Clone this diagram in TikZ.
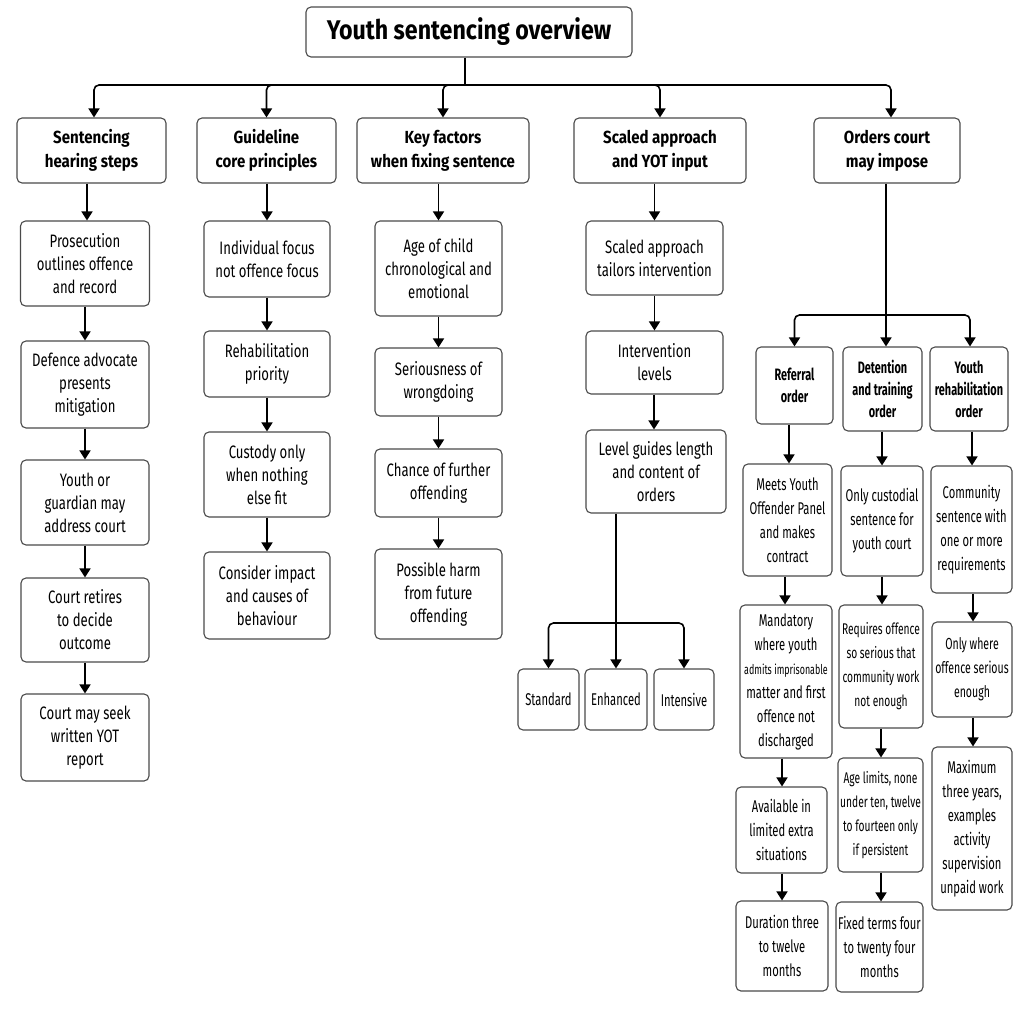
\documentclass[tikz,border=0pt]{standalone}
\usepackage{fontspec}
\usetikzlibrary{arrows.meta}
\newfontfamily\headf[FakeStretch=0.86]{Fira Sans}
\newfontfamily\bodyf[FakeStretch=0.73]{Fira Sans}
\newfontfamily\narrowf[FakeStretch=0.66]{Fira Sans}
\definecolor{boxc}{HTML}{4A4A4A}
\tikzset{
  box/.style={draw=boxc, line width=1.1pt, rounded corners=5pt, fill=white, align=center, inner sep=1pt, text=black},
  ttl/.style={box, font=\headf\bfseries\fontsize{27}{30}\selectfont},
  head/.style={box, font=\headf\bfseries\fontsize{17.5}{24}\selectfont},
  subhead/.style={box, font=\narrowf\bfseries\fontsize{16.5}{22}\selectfont},
  body/.style={box, font=\bodyf\fontsize{18}{23}\selectfont},
  narrow/.style={box, font=\narrowf\fontsize{17}{24}\selectfont},
  arr/.style={draw=black, line width=1.6pt, -{Triangle[length=9pt,width=11pt]}},
  ln/.style={draw=black, line width=1.6pt},
}
\begin{document}
\begin{tikzpicture}[x=1pt,y=-1pt]
\fill[white] (0,0) rectangle (1020,1009);
\useasboundingbox (0,0) rectangle (1020,1009);

\node[ttl, minimum width=326pt, minimum height=50pt] (title) at (469,32) {Youth sentencing overview};

\node[head, minimum width=149pt, minimum height=65pt] (h1) at (91.5,150.5) {Sentencing\\hearing steps};
\node[head, minimum width=139pt, minimum height=65pt] (h2) at (266.5,150.5) {Guideline\\core principles};
\node[head, minimum width=172pt, minimum height=65pt] (h3) at (443,150.5) {Key factors\\when fixing sentence};
\node[head, minimum width=172pt, minimum height=65pt] (h4) at (660,150.5) {Scaled approach\\and YOT input};
\node[head, minimum width=146pt, minimum height=65pt] (h5) at (887,150.5) {Orders court\\may impose};

\coordinate (bus) at (465,85);
\draw[ln] (title.south -| bus) -- (bus);
\draw[arr, rounded corners=5pt] (bus) -| (h1.north -| 94,0);
\draw[arr, rounded corners=5pt] (bus) -| (h2.north);
\draw[arr, rounded corners=5pt] (bus) -| (h3.north);
\draw[arr, rounded corners=5pt] (bus) -| (h4.north);
\draw[arr, rounded corners=5pt] (bus) -| (h5.north -| 891,0);

% column 1
\node[body, minimum width=129pt, minimum height=85pt] (c1a) at (85,263.5) {Prosecution\\outlines offence\\and record};
\node[body, minimum width=128pt, minimum height=87pt] (c1b) at (85,384.5) {Defence advocate\\presents\\mitigation};
\node[body, minimum width=128pt, minimum height=85pt] (c1c) at (85,502.5) {Youth or\\guardian may\\address court};
\node[body, minimum width=128pt, minimum height=84pt] (c1d) at (85,620) {Court retires\\to decide\\outcome};
\node[body, minimum width=128pt, minimum height=87pt] (c1e) at (85,737.5) {Court may seek\\written YOT\\report};
\draw[arr] (h1.south -| 87,0) -- (c1a.north -| 87,0);
\draw[arr] (c1a) -- (c1b);
\draw[arr] (c1b) -- (c1c);
\draw[arr] (c1c) -- (c1d);
\draw[arr] (c1d) -- (c1e);

% column 2
\node[body, minimum width=126pt, minimum height=76pt] (c2a) at (267,259) {Individual focus\\not offence focus};
\node[body, minimum width=126pt, minimum height=66pt] (c2b) at (267,364) {Rehabilitation\\priority};
\node[body, minimum width=126pt, minimum height=85pt] (c2c) at (267,474.5) {Custody only\\when nothing\\else fit};
\node[body, minimum width=126pt, minimum height=87pt] (c2d) at (267,595.5) {Consider impact\\and causes of\\behaviour};
\draw[arr] (h2.south -| c2a.north) -- (c2a.north);
\draw[arr] (c2a) -- (c2b);
\draw[arr] (c2b) -- (c2c);
\draw[arr] (c2c) -- (c2d);

% column 3
\node[body, minimum width=127pt, minimum height=95pt] (c3a) at (438.5,268.5) {Age of child\\chronological and\\emotional};
\node[body, minimum width=127pt, minimum height=68pt] (c3b) at (438.5,382) {Seriousness of\\wrongdoing};
\node[body, minimum width=127pt, minimum height=68pt] (c3c) at (438.5,483) {Chance of further\\offending};
\node[body, minimum width=127pt, minimum height=90pt] (c3d) at (438.5,594) {Possible harm\\from future\\offending};
\draw[arr] (h3.south -| c3a.north) -- (c3a.north);
\draw[arr] (c3a) -- (c3b);
\draw[arr] (c3b) -- (c3c);
\draw[arr] (c3c) -- (c3d);

% column 4
\node[body, minimum width=137pt, minimum height=74pt] (c4a) at (654.5,258) {Scaled approach\\tailors intervention};
\node[body, minimum width=137pt, minimum height=63pt] (c4b) at (654.5,362.5) {Intervention\\levels};
\node[body, minimum width=140pt, minimum height=83pt] (c4c) at (656,471.5) {Level guides length\\and content of\\orders};
\node[narrow, minimum width=61pt, minimum height=61pt] (std) at (548.5,699.5) {Standard};
\node[narrow, minimum width=62pt, minimum height=61pt] (enh) at (616,699.5) {Enhanced};
\node[narrow, minimum width=60pt, minimum height=61pt] (int) at (684,699.5) {Intensive};
\draw[arr] (h4.south -| c4a.north) -- (c4a.north);
\draw[arr] (c4a) -- (c4b);
\draw[arr] (c4b.south -| 654,0) -- (c4c.north -| 654,0);
\coordinate (lvbus) at (616,623);
\draw[arr] (c4c.south -| enh.north) -- (enh.north);
\draw[arr, rounded corners=5pt] (lvbus) -| (std.north);
\draw[arr, rounded corners=5pt] (lvbus) -| (int.north);

% column 5
\node[subhead, minimum width=77pt, minimum height=77pt] (r1) at (794.5,385.5) {Referral\\order};
\node[subhead, minimum width=79pt, minimum height=84pt] (r2) at (882.5,389) {Detention\\and training\\order};
\node[subhead, minimum width=78pt, minimum height=84pt] (r3) at (969,389) {Youth\\rehabilitation\\order};
\coordinate (bus5) at (886,315);
\draw[arr] (h5.south -| bus5) -- (r2.north -| bus5);
\draw[arr, rounded corners=5pt] (bus5) -| (r1.north);
\draw[arr, rounded corners=5pt] (bus5) -| (r3.north -| 970,0);

\node[narrow, minimum width=89pt, minimum height=112pt] (ra) at (787.5,520) {Meets Youth\\Offender Panel\\and makes\\contract};
\node[narrow, minimum width=92pt, minimum height=153pt] (rb) at (786,681.5) {Mandatory\\where youth\\{\fontsize{13.5}{24}\selectfont admits imprisonable}\\matter and first\\offence not\\discharged};
\node[narrow, minimum width=91pt, minimum height=86pt] (rc) at (781.5,830) {Available in\\limited extra\\situations};
\node[narrow, minimum width=92pt, minimum height=90pt] (rd) at (782,946) {Duration three\\to twelve\\months};
\draw[arr] (r1.south -| 789,0) -- (ra.north -| 789,0);
\draw[arr] (ra.south -| 785,0) -- (rb.north -| 785,0);
\draw[arr] (rb.south -| 782,0) -- (rc.north -| 782,0);
\draw[arr] (rc.south -| 782,0) -- (rd.north -| 782,0);

\node[narrow, minimum width=82pt, minimum height=110pt] (da) at (882,521) {Only custodial\\sentence for\\youth court};
\node[narrow, minimum width=84pt, minimum height=123pt, font=\narrowf\fontsize{15.5}{24}\selectfont] (db) at (881,666.5) {Requires offence\\so serious that\\community work\\not enough};
\node[narrow, minimum width=85pt, minimum height=114pt, font=\narrowf\fontsize{15.5}{24}\selectfont] (dc) at (880.5,815) {Age limits, none\\under ten, twelve\\to fourteen only\\if persistent};
\node[narrow, minimum width=87pt, minimum height=90pt] (dd) at (879.5,947) {Fixed terms four\\to twenty four\\months};
\draw[arr] (r2.south -| 882,0) -- (da.north -| 882,0);
\draw[arr] (da.south -| 882,0) -- (db.north -| 882,0);
\draw[arr] (db.south -| 881,0) -- (dc.north -| 881,0);
\draw[arr] (dc.south -| 881,0) -- (dd.north -| 881,0);

\node[narrow, minimum width=81pt, minimum height=127pt] (ya) at (971.5,529.5) {Community\\sentence with\\one or more\\requirements};
\node[narrow, minimum width=80pt, minimum height=95pt, font=\narrowf\fontsize{16}{24}\selectfont] (yb) at (972,669.5) {Only where\\offence serious\\enough};
\node[narrow, minimum width=80pt, minimum height=163pt] (yc) at (972,828.5) {Maximum\\three years,\\examples\\activity\\supervision\\unpaid work};
\draw[arr] (r3.south -| 972,0) -- (ya.north -| 972,0);
\draw[arr] (ya.south -| 973,0) -- (yb.north -| 973,0);
\draw[arr] (yb.south -| 973,0) -- (yc.north -| 973,0);
\end{tikzpicture}
\end{document}
